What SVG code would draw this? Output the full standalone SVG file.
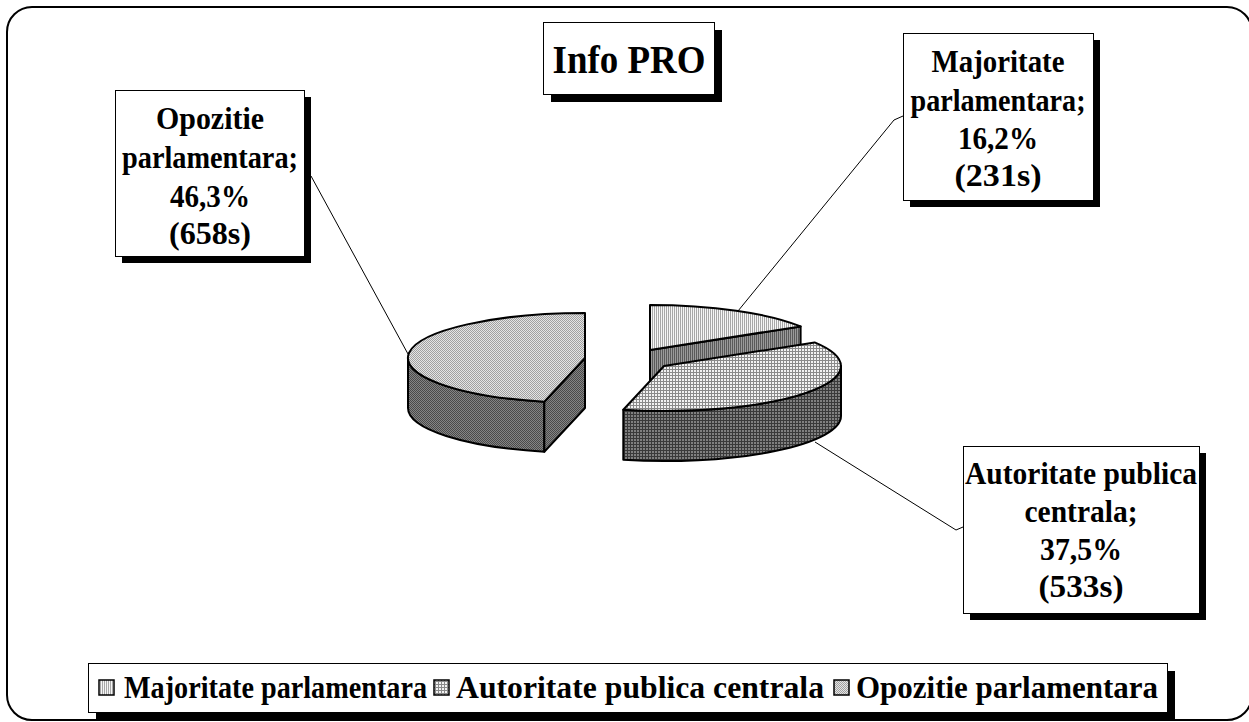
<svg xmlns="http://www.w3.org/2000/svg" width="1249" height="722" viewBox="0 0 1249 722">
<defs>
<pattern id="pOpoTop" width="2" height="2" patternUnits="userSpaceOnUse"><rect width="2" height="2" fill="#e4e4e4"/><rect width="1" height="1" fill="#a0a0a0"/><rect x="1" y="1" width="1" height="1" fill="#a0a0a0"/></pattern>
<pattern id="pOpoSide" width="2" height="2" patternUnits="userSpaceOnUse"><rect width="2" height="2" fill="#858585"/><rect width="1" height="1" fill="#4a4a4a"/><rect x="1" y="1" width="1" height="1" fill="#4a4a4a"/></pattern>
<pattern id="pMajTop" width="2" height="2" patternUnits="userSpaceOnUse"><rect width="2" height="2" fill="#f6f6f6"/><rect width="1" height="2" fill="#a8a8a8"/></pattern>
<pattern id="pMajSide" width="2" height="2" patternUnits="userSpaceOnUse"><rect width="2" height="2" fill="#9a9a9a"/><rect width="1" height="2" fill="#5a5a5a"/></pattern>
<pattern id="pAutTop" width="3" height="3" patternUnits="userSpaceOnUse"><rect width="3" height="3" fill="#f2f2f2"/><rect width="1" height="3" fill="#8a8a8a"/><rect width="3" height="1" fill="#8a8a8a"/></pattern>
<pattern id="pAutSide" width="3" height="3" patternUnits="userSpaceOnUse"><rect width="3" height="3" fill="#808080"/><rect width="1" height="3" fill="#3a3a3a"/><rect width="3" height="1" fill="#3a3a3a"/></pattern>
</defs>
<style>
.frame{fill:#fff;stroke:#000;stroke-width:2}
.box{fill:#fff;stroke:#000;stroke-width:1}
.shadow{fill:#000}
.face{stroke:#000;stroke-width:2;stroke-linejoin:round}
.lead{fill:none;stroke:#000;stroke-width:1}
.lbl{font-family:"Liberation Serif","Times New Roman",serif;font-weight:bold;font-size:31px;fill:#000;text-anchor:middle}
.title{font-family:"Liberation Serif","Times New Roman",serif;font-weight:bold;font-size:41px;fill:#000;text-anchor:middle}
.leg{font-family:"Liberation Serif","Times New Roman",serif;font-weight:bold;font-size:31px;fill:#000}
.sw{stroke:#000;stroke-width:1.5}
</style>
<rect class="frame" x="7" y="7" width="1245" height="713" rx="25" ry="25"/>

<g id="title">
<rect class="shadow" x="551" y="30" width="171" height="72"/>
<rect class="box" x="543.5" y="22.5" width="171" height="72"/>
<text class="title" x="629" y="73" textLength="153" lengthAdjust="spacingAndGlyphs">Info PRO</text>
</g>

<g id="slice-opozitie">
<path class="face" fill="url(#pOpoSide)" d="M544.3,401.8 A177,45 0 0 1 408,358 L408,408 A177,45 0 0 0 544.3,451.8 Z"/>
<path class="face" fill="url(#pOpoSide)" d="M585,358 L544.3,401.8 L544.3,451.8 L585,408 Z"/>
<path class="face" fill="url(#pOpoTop)" d="M585,358 L544.3,401.8 A177,45 0 0 1 585,313 Z"/>
</g>

<g id="slice-majoritate">
<path class="face" fill="url(#pMajSide)" d="M650,350 L800.6,326.4 L800.6,376.4 L650,400 Z"/>
<path class="face" fill="url(#pMajTop)" d="M650,350 L650,305 A177,45 0 0 1 800.6,326.4 Z"/>
</g>

<g id="slice-autoritate">
<path class="face" fill="url(#pAutSide)" d="M841,366 A177,45 0 0 1 623.3,409.8 L623.3,459.8 A177,45 0 0 0 841,416 Z"/>
<path class="face" fill="url(#pAutTop)" d="M664,366 L814.6,342.4 A177,45 0 0 1 623.3,409.8 Z"/>
</g>

<g id="connectors">
<path class="lead" d="M305,170 L311,176 L408,354"/>
<path class="lead" d="M903,116 L894,120 L738,311"/>
<path class="lead" d="M815,442 L956,530 L963,527"/>
</g>

<g id="label-opozitie">
<rect class="shadow" x="122" y="97" width="189" height="166"/>
<rect class="box" x="115.5" y="90.5" width="189" height="166"/>
<text class="lbl" x="210" y="129" textLength="108" lengthAdjust="spacingAndGlyphs">Opozitie</text>
<text class="lbl" x="210" y="168" textLength="176" lengthAdjust="spacingAndGlyphs">parlamentara;</text>
<text class="lbl" x="210" y="207" textLength="80" lengthAdjust="spacingAndGlyphs">46,3%</text>
<text class="lbl" x="210" y="244" textLength="82" lengthAdjust="spacingAndGlyphs">(658s)</text>
</g>

<g id="label-majoritate">
<rect class="shadow" x="910" y="40" width="190" height="167"/>
<rect class="box" x="903.5" y="33.5" width="190" height="167"/>
<text class="lbl" x="998" y="72" textLength="133" lengthAdjust="spacingAndGlyphs">Majoritate</text>
<text class="lbl" x="998" y="111" textLength="175" lengthAdjust="spacingAndGlyphs">parlamentara;</text>
<text class="lbl" x="998" y="149" textLength="80" lengthAdjust="spacingAndGlyphs">16,2%</text>
<text class="lbl" x="998" y="186" textLength="87" lengthAdjust="spacingAndGlyphs">(231s)</text>
</g>

<g id="label-autoritate">
<rect class="shadow" x="970" y="453" width="236" height="167"/>
<rect class="box" x="963.5" y="446.5" width="236" height="167"/>
<text class="lbl" x="1081" y="484" textLength="232" lengthAdjust="spacingAndGlyphs">Autoritate publica</text>
<text class="lbl" x="1081" y="522" textLength="113" lengthAdjust="spacingAndGlyphs">centrala;</text>
<text class="lbl" x="1081" y="560" textLength="82" lengthAdjust="spacingAndGlyphs">37,5%</text>
<text class="lbl" x="1081" y="597" textLength="85" lengthAdjust="spacingAndGlyphs">(533s)</text>
</g>

<g id="legend">
<rect class="shadow" x="96" y="671" width="1079" height="49"/>
<rect class="box" x="88.5" y="663.5" width="1079" height="49"/>
<rect class="sw" fill="url(#pMajTop)" x="99" y="680" width="15" height="15"/>
<text class="leg" x="124" y="698" textLength="303" lengthAdjust="spacingAndGlyphs">Majoritate parlamentara</text>
<rect class="sw" fill="url(#pAutTop)" x="434" y="680" width="15" height="15"/>
<text class="leg" x="456" y="698" textLength="368" lengthAdjust="spacingAndGlyphs">Autoritate publica centrala</text>
<rect class="sw" fill="url(#pOpoTop)" x="834" y="680" width="15" height="15"/>
<text class="leg" x="856" y="698" textLength="302" lengthAdjust="spacingAndGlyphs">Opozitie parlamentara</text>
</g>
</svg>
